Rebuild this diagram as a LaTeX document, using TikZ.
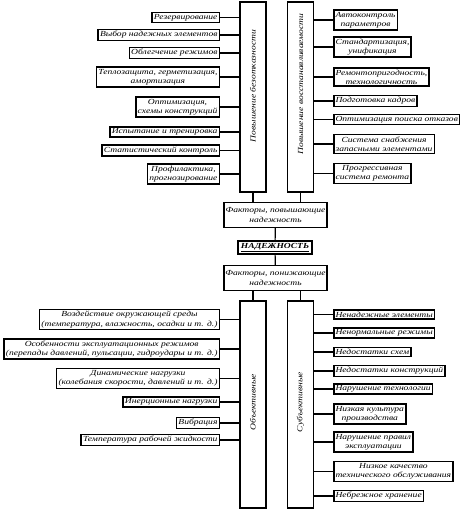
\documentclass[tikz,border=0pt]{standalone}
\usepackage{fontspec}
\setmainfont[FakeStretch=1.23]{Liberation Serif}
\usetikzlibrary{positioning}

\begin{document}
\begin{tikzpicture}[
  x=1bp, y=-1bp,
  font=\itshape\fontsize{7.8}{9.3}\selectfont,
  item/.style={rectangle, draw=black, line width=1.5pt, inner xsep=1.8pt,
               inner ysep=1.8pt, align=center},
  bar/.style={rectangle, draw=black, line width=1.2pt, minimum width=26bp},
  hub/.style={rectangle, draw=black, line width=1.2pt, minimum width=103bp,
              minimum height=25bp, align=center, inner sep=1pt},
  link/.style={line width=1.2pt},
]
\useasboundingbox (0,0) rectangle (468,513);

% --- columnas ---
\node[bar, minimum height=190bp] (bz) at (253,97)    {};
\node[bar, minimum height=190bp] (vs) at (300.5,97)  {};
\node[bar, minimum height=207bp] (ob) at (253,404.5) {};
\node[bar, minimum height=207bp] (sb) at (300.5,404.5) {};
\node[rotate=90] at (253,86)    {Повышение безотказности};
\node[rotate=90] at (300.5,84)  {Повышение восстанавливаемости};
\node[rotate=90] at (253,402)   {Объективные};
\node[rotate=90] at (300.5,402) {Субъективные};

% --- centro ---
\node[hub] (fp) at (275.5,215) {Факторы, повышающие\\надежность};
\node[item, minimum width=74bp, minimum height=13bp, inner ysep=1pt,
      font=\bfseries\itshape\fontsize{7.8}{9.3}\selectfont] (nd) at (275,247.5) {\underline{НАДЕЖНОСТЬ}};
\node[hub] (fn) at (275.5,278) {Факторы, понижающие\\надежность};

\draw[link] (bz.south) -- (bz.south |- fp.north);
\draw[link] (vs.south) -- (vs.south |- fp.north);
\draw[link] (fp) -- (nd);
\draw[link] (nd) -- (fn);
\draw[link] (fn.south -| ob) -- (ob.north);
\draw[link] (fn.south -| sb) -- (sb.north);

% --- повышение безотказности ---
\node[item, anchor=east] (a1) at (220,17.5)  {Резервирование};
\node[item, anchor=east] (a2) at (220,35)    {Выбор надежных элементов};
\node[item, anchor=east] (a3) at (220,53)    {Облегчение режимов};
\node[item, anchor=east] (a4) at (220,77)    {Теплозащита, герметизация,\\амортизация};
\node[item, anchor=east] (a5) at (220,107)   {Оптимизация,\\схемы конструкций};
\node[item, anchor=east] (a6) at (220,132)   {Испытание и тренировка};
\node[item, anchor=east] (a7) at (220,150.5) {Статистический контроль};
\node[item, anchor=east] (a8) at (220,174)   {Профилактика,\\прогнозирование};
\foreach \n in {a1,a2,a3,a4,a5,a6,a7,a8}
  \draw[link] (\n.east) -- (\n.east -| bz.west);

% --- повышение восстанавливаемости ---
\node[item, anchor=west] (b1) at (333,20)    {Автоконтроль\\параметров};
\node[item, anchor=west] (b2) at (333,47)    {Стандартизация,\\унификация};
\node[item, anchor=west] (b3) at (333,77)    {Ремонтопригодность,\\технологичность};
\node[item, anchor=west] (b4) at (333,101)   {Подготовка кадров};
\node[item, anchor=west] (b5) at (333,119.5) {Оптимизация поиска отказов};
\node[item, anchor=west] (b6) at (333,144)   {Система снабжения\\запасными элементами};
\node[item, anchor=west] (b7) at (333,173.5) {Прогрессивная\\система ремонта};
\foreach \n in {b1,b2,b3,b4,b5,b6,b7}
  \draw[link] (\n.west -| vs.east) -- (\n.west);

% --- объективные ---
\node[item, anchor=east] (c1) at (220,319.5) {Воздействие окружающей среды\\(температура, влажность, осадки и т. д.)};
\node[item, anchor=east] (c2) at (220,349)   {Особенности эксплуатационных режимов\\(перепады давлений, пульсации, гидроудары и т. д.)};
\node[item, anchor=east] (c3) at (220,378.5) {Динамические нагрузки\\(колебания скорости, давлений и т. д.)};
\node[item, anchor=east] (c4) at (220,402)   {Инерционные нагрузки};
\node[item, anchor=east] (c5) at (220,423)   {Вибрация};
\node[item, anchor=east] (c6) at (220,440)   {Температура рабочей жидкости};
\foreach \n in {c1,c2,c3,c4,c5,c6}
  \draw[link] (\n.east) -- (\n.east -| ob.west);

% --- субъективные ---
\node[item, anchor=west] (d1) at (333,314.5) {Ненадежные элементы};
\node[item, anchor=west] (d2) at (333,333)   {Ненормальные режимы};
\node[item, anchor=west] (d3) at (333,352)   {Недостатки схем};
\node[item, anchor=west] (d4) at (333,371)   {Недостатки конструкций};
\node[item, anchor=west] (d5) at (333,389)   {Нарушение технологии};
\node[item, anchor=west] (d6) at (333,414)   {Низкая культура\\производства};
\node[item, anchor=west] (d7) at (333,442)   {Нарушение правил\\эксплуатации};
\node[item, anchor=west] (d8) at (333,471.5) {Низкое качество\\технического обслуживания};
\node[item, anchor=west] (d9) at (333,496)   {Небрежное хранение};
\foreach \n in {d1,d2,d3,d4,d5,d6,d7,d8,d9}
  \draw[link] (\n.west -| sb.east) -- (\n.west);
\end{tikzpicture}
\end{document}
